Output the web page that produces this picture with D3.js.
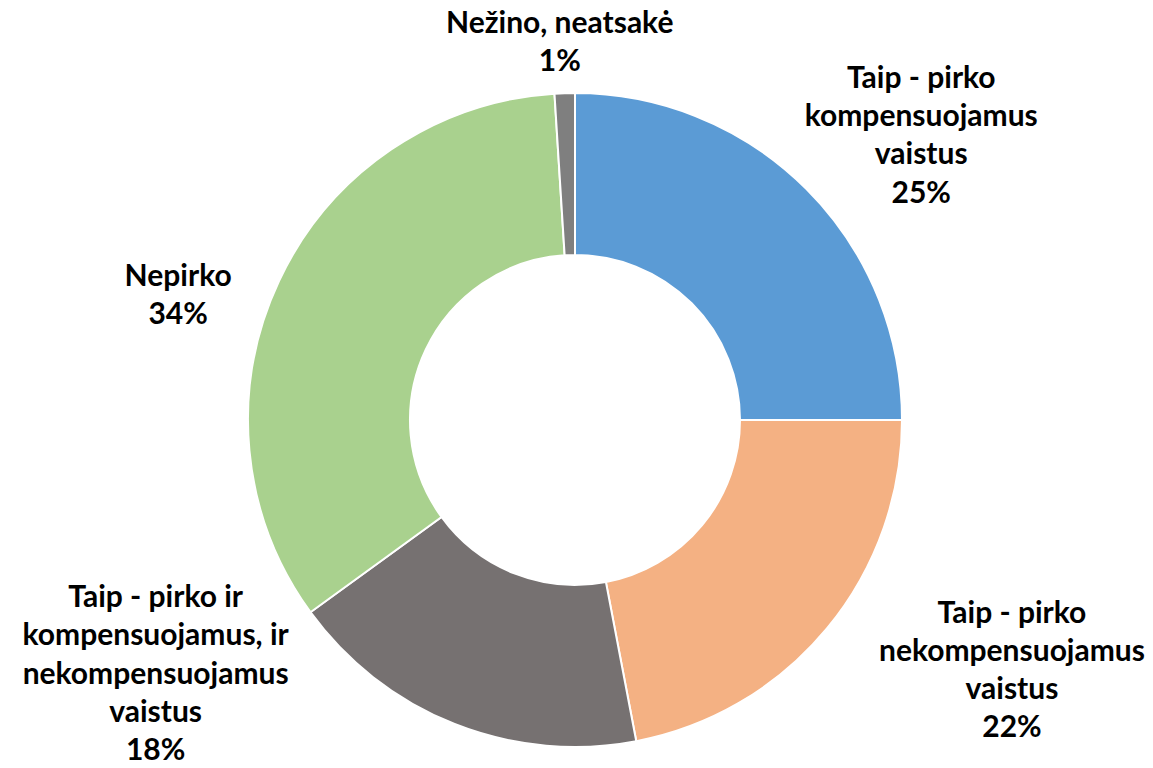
<!DOCTYPE html>
<html>
<head>
  <meta charset="utf-8">
  <title>Donut</title>
  <script src="https://d3js.org/d3.v7.min.js"></script>
  <style>
    body, html { margin: 0; padding: 0; background: #fff; overflow: hidden; }
    .label { font-family: Lato, "Open Sans", sans-serif; font-weight: bold; font-size: 30px; fill: #000; }
  </style>
</head>
<body>
  <div id="chart"></div>
  <script>
    // data
    const categories = [
      ["Taip - pirko", "kompensuojamus", "vaistus"],
      ["Taip - pirko", "nekompensuojamus", "vaistus"],
      ["Taip - pirko ir", "kompensuojamus, ir", "nekompensuojamus", "vaistus"],
      ["Nepirko"],
      ["Nežino, neatsakė"]
    ];
    const values = [25, 22, 18, 34, 1];
    const colors = ["#5B9BD5", "#F4B183", "#767171", "#A9D18E", "#7F7F7F"];

    // label offsets from the outer edge point at each slice's middle angle
    const labelOffsets = [[115, -54], [185, 41], [-299, -51], [-101, 14], [-5, -52]];

    const width = 1153, height = 768;
    const cx = 575, cy = 420;
    const outerR = 327, innerR = 165;
    const lineH = 38.2;

    const svg = d3.select("#chart").append("svg")
      .attr("width", width)
      .attr("height", height);

    const pie = d3.pie().sort(null).value(d => d);
    const arcs = pie(values);

    const arc = d3.arc().innerRadius(innerR).outerRadius(outerR);

    const g = svg.append("g").attr("transform", `translate(${cx},${cy})`);

    g.selectAll("path")
      .data(arcs)
      .join("path")
      .attr("d", arc)
      .attr("fill", (d, i) => colors[i])
      .attr("stroke", "#fff")
      .attr("stroke-width", 2);

    // labels
    const labels = g.selectAll("text.label")
      .data(arcs)
      .join("text")
      .attr("class", "label")
      .attr("text-anchor", "middle")
      .attr("transform", (d, i) => {
        const a = (d.startAngle + d.endAngle) / 2;
        const x = Math.sin(a) * outerR + labelOffsets[i][0];
        const y = -Math.cos(a) * outerR + labelOffsets[i][1];
        return `translate(${x},${y})`;
      });

    labels.each(function(d, i) {
      const lines = categories[i].concat([Math.round(values[i]) + "%"]);
      const t = d3.select(this);
      const y0 = -(lines.length - 1) * lineH / 2;
      lines.forEach((ln, k) => {
        t.append("tspan")
          .attr("x", 0)
          .attr("y", y0 + k * lineH)
          .attr("dy", "0.35em")
          .text(ln);
      });
    });
  </script>
</body>
</html>
